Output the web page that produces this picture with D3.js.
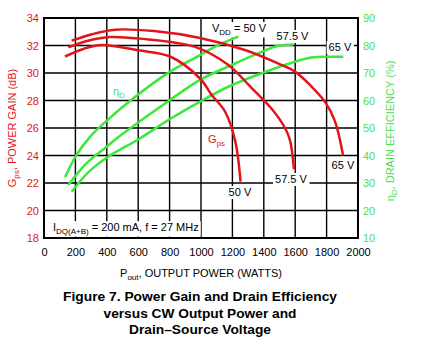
<!DOCTYPE html>
<html>
<head>
<meta charset="utf-8">
<style>
  body { margin: 0; background: #fff; }
  text { font-family: "Liberation Sans Narrow", "Arial Narrow", "Liberation Sans", Arial, sans-serif; }
  .title { font-family: "Liberation Sans", Arial, sans-serif; font-weight: bold; font-size: 12.5px; }
</style>
</head>
<body>
<svg width="421" height="353"></svg>
<script src="https://cdn.jsdelivr.net/npm/d3@7"></script>
<script>
// ticks
const powerTicks = [0, 200, 400, 600, 800, 1000, 1200, 1400, 1600, 1800, 2000]
const gainTicks = [18, 20, 22, 24, 26, 28, 30, 32, 34]
const effTicks = [10, 20, 30, 40, 50, 60, 70, 80, 90]

// power gain (dB) vs Pout (W)
const gain50Pout = [134, 250, 367, 600, 803, 994, 1068, 1153, 1217, 1252]
const gain50 = [31.2, 31.75, 32.04, 31.65, 31.2, 29.6, 28.4, 27.2, 25.1, 22.1]
const gain575Pout = [155, 280, 420, 611, 962, 1172, 1323, 1450, 1535, 1567, 1592]
const gain575 = [31.87, 32.35, 32.62, 32.5, 31.9, 30.6, 28.9, 27.4, 26.0, 25.1, 23.0]
const gain65Pout = [176, 300, 452, 700, 994, 1280, 1490, 1599, 1705, 1790, 1853, 1905]
const gain65 = [32.35, 32.8, 33.15, 33.05, 32.55, 31.67, 30.7, 30.1, 29.0, 27.9, 26.5, 24.0]

// drain efficiency (%) vs Pout (W)
const eff50Pout = [134, 208, 293, 399, 569, 803, 994, 1100, 1238]
const eff50 = [32.1, 40.3, 46.8, 52.6, 60.8, 70.5, 76.5, 79.9, 83.2]
const eff575Pout = [155, 272, 399, 495, 803, 994, 1195, 1386, 1492, 1588]
const eff575 = [29.3, 37.2, 43.2, 47.6, 60.2, 67.5, 72.9, 77.7, 79.9, 80.4]
const eff65Pout = [176, 280, 399, 611, 792, 994, 1174, 1386, 1599, 1705, 1811, 1906]
const eff65 = [26.8, 33.8, 39.2, 46.2, 52.9, 59.6, 65.0, 69.9, 74.1, 75.6, 75.9, 75.9]

const red = "#e3141c", green = "#3be83b", greenText = "#4ee04e"

const svg = d3.select("svg")
const m = {left: 44, top: 18, right: 358, bottom: 238}
const w = m.right - m.left, h = m.bottom - m.top

const x = d3.scaleLinear().domain([0, 2000]).range([0, w])
const yG = d3.scaleLinear().domain([18, 34]).range([h, 0])
const yE = d3.scaleLinear().domain([10, 90]).range([h, 0])

const g = svg.append("g").attr("transform", `translate(${m.left},${m.top})`)

// grid
g.append("g").selectAll("line").data(powerTicks).enter().append("line")
  .attr("x1", x).attr("x2", x).attr("y1", 0).attr("y2", h)
  .attr("stroke", "#000").attr("stroke-width", 1.4)
g.append("g").selectAll("line").data(gainTicks).enter().append("line")
  .attr("x1", 0).attr("x2", w).attr("y1", yG).attr("y2", yG)
  .attr("stroke", "#000").attr("stroke-width", 1.4)

// axes
const axB = g.append("g").attr("transform", `translate(0,${h})`)
  .call(d3.axisBottom(x).tickValues(powerTicks).tickSize(0).tickPadding(10).tickFormat(d3.format("d")))
axB.selectAll("text").attr("fill", "#000").style("font-size", "11px")
const axL = g.append("g")
  .call(d3.axisLeft(yG).tickValues(gainTicks).tickSize(0).tickPadding(5))
axL.selectAll("text").attr("fill", red).style("font-size", "11px")
const axR = g.append("g").attr("transform", `translate(${w},0)`)
  .call(d3.axisRight(yE).tickValues(effTicks).tickSize(0).tickPadding(5))
axR.selectAll("text").attr("fill", greenText).style("font-size", "11px")
g.selectAll(".domain").remove()

g.append("rect").attr("width", w).attr("height", h)
  .attr("fill", "none").attr("stroke", "#000").attr("stroke-width", 2)

// text with subscripts: parts = [[text, isSub], ...]
function addParts(t, parts) {
  let down = false
  parts.forEach(p => {
    const s = t.append("tspan").text(p[0])
    if (p[1] && !down) { s.attr("dy", 2.5).style("font-size", "8px"); down = true }
    else if (!p[1] && down) { s.attr("dy", -2.5); down = false }
  })
  return t
}

function label(px, py, parts, color, anchor, bg) {
  const t = g.append("text").attr("x", px).attr("y", py)
    .attr("text-anchor", anchor || "start").attr("fill", color).style("font-size", "11px")
  addParts(t, parts)
  if (bg) {
    const b = t.node().getBBox()
    g.insert("rect", function() { return t.node() })
      .attr("x", b.x - 2).attr("y", b.y).attr("width", b.width + 4).attr("height", b.height + 1)
      .attr("fill", "#fff")
  }
  return t
}

label(x(1070), yG(32.98), [["V"], ["DD", 1], [" = 50 V"]], "#000", "start", true)
label(x(1583), yG(32.4), [["57.5 V"]], "#000", "middle", true)
label(x(1885), yG(31.6), [["65 V"]], "#000", "middle", true)
label(x(1248), yG(21.05), [["50 V"]], "#000", "middle", true)
label(x(1573), yG(22.0), [["57.5 V"]], "#000", "middle", true)
label(x(1904), yG(23.0), [["65 V"]], "#000", "middle", true)
label(x(57), yG(18.5), [["I"], ["DQ(A+B)", 1], [" = 200 mA, f = 27 MHz"]], "#000", "start", true)

// curves
const line = yScale => d3.line().x(d => x(d[0])).y(d => yScale(d[1])).curve(d3.curveCatmullRom)
const gainSets = [[gain50Pout, gain50], [gain575Pout, gain575], [gain65Pout, gain65]]
const effSets = [[eff50Pout, eff50], [eff575Pout, eff575], [eff65Pout, eff65]]

effSets.forEach(s => {
  g.append("path").datum(d3.zip(s[0], s[1])).attr("d", line(yE))
    .attr("fill", "none").attr("stroke", green).attr("stroke-width", 2.5)
})
gainSets.forEach(s => {
  g.append("path").datum(d3.zip(s[0], s[1])).attr("d", line(yG))
    .attr("fill", "none").attr("stroke", red).attr("stroke-width", 2.5)
})

label(x(1045), yG(24.9), [["G"], ["ps", 1]], red, "start", false)
label(x(439), yG(28.4), [["η"], ["D", 1]], greenText, "start", false)

// axis titles
addParts(svg.append("text").attr("transform", "translate(16,128) rotate(-90)")
  .attr("text-anchor", "middle").attr("fill", red).style("font-size", "11px"),
  [["G"], ["ps", 1], [", POWER GAIN (dB)"]])

addParts(svg.append("text").attr("transform", "translate(394,131) rotate(-90)")
  .attr("text-anchor", "middle").attr("fill", greenText).style("font-size", "11px"),
  [["η"], ["D", 1], [", DRAIN EFFICIENCY (%)"]])

addParts(svg.append("text").attr("x", 201).attr("y", 277)
  .attr("text-anchor", "middle").attr("fill", "#000").style("font-size", "11px"),
  [["P"], ["out", 1], [", OUTPUT POWER (WATTS)"]])

// caption
const caption = ["Figure 7. Power Gain and Drain Efficiency", "versus CW Output Power and", "Drain\u2013Source Voltage"]
const captionWidth = [274, 193, 142]
svg.selectAll(".title").data(caption).enter().append("text").attr("class", "title")
  .attr("x", 200).attr("y", (d, i) => 301 + i * 16.5)
  .attr("text-anchor", "middle").attr("fill", "#000")
  .attr("textLength", (d, i) => captionWidth[i]).attr("lengthAdjust", "spacingAndGlyphs")
  .text(d => d)
</script>
</body>
</html>
